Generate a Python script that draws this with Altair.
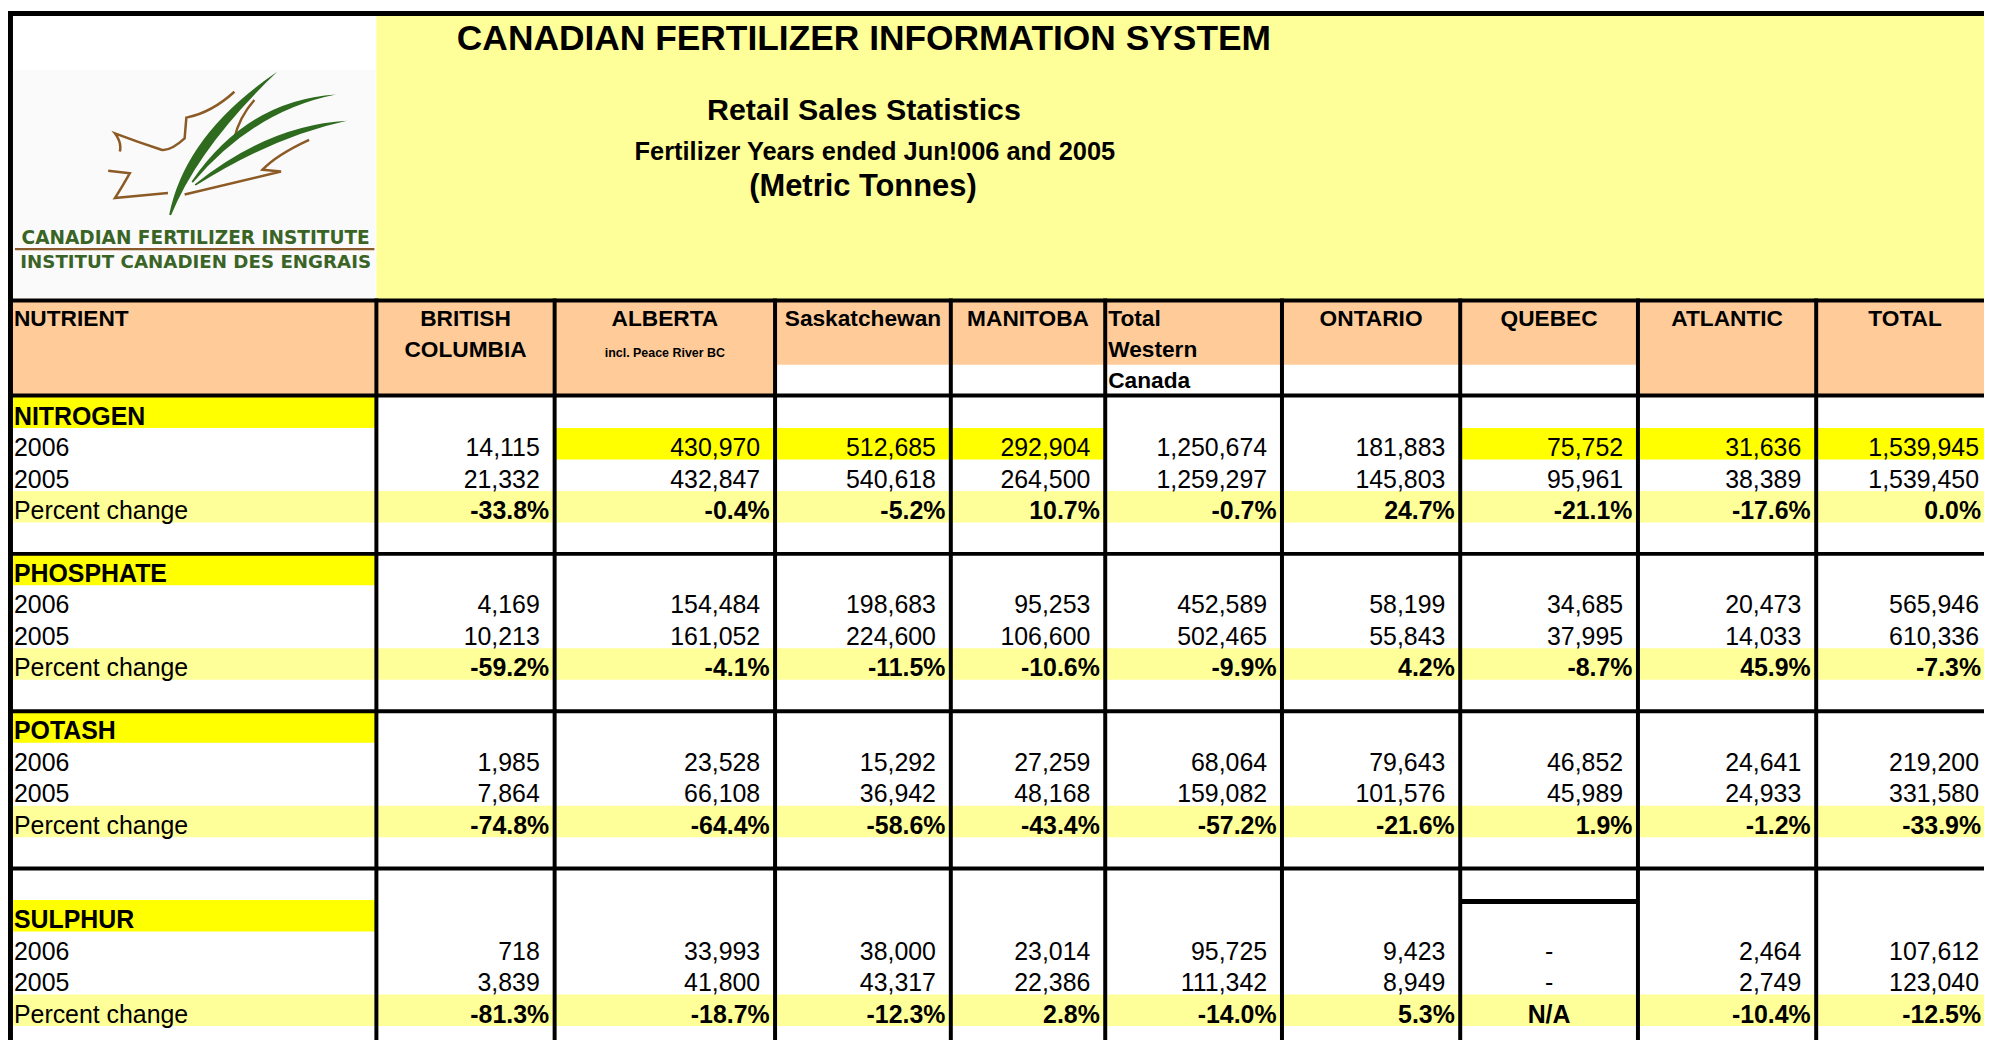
import altair as alt
import pandas as pd

# ------------------------------------------------------------------ data
regions = ["BRITISH COLUMBIA", "ALBERTA", "Saskatchewan", "MANITOBA",
           "Total Western Canada", "ONTARIO", "QUEBEC", "ATLANTIC", "TOTAL"]
nutrients = ["NITROGEN", "PHOSPHATE", "POTASH", "SULPHUR"]
row_labels = ["2006", "2005", "Percent change"]

nitrogen_2006 = [14115, 430970, 512685, 292904, 1250674, 181883, 75752, 31636, 1539945]
nitrogen_2005 = [21332, 432847, 540618, 264500, 1259297, 145803, 95961, 38389, 1539450]
nitrogen_pct = [-33.8, -0.4, -5.2, 10.7, -0.7, 24.7, -21.1, -17.6, 0.0]

phosphate_2006 = [4169, 154484, 198683, 95253, 452589, 58199, 34685, 20473, 565946]
phosphate_2005 = [10213, 161052, 224600, 106600, 502465, 55843, 37995, 14033, 610336]
phosphate_pct = [-59.2, -4.1, -11.5, -10.6, -9.9, 4.2, -8.7, 45.9, -7.3]

potash_2006 = [1985, 23528, 15292, 27259, 68064, 79643, 46852, 24641, 219200]
potash_2005 = [7864, 66108, 36942, 48168, 159082, 101576, 45989, 24933, 331580]
potash_pct = [-74.8, -64.4, -58.6, -43.4, -57.2, -21.6, 1.9, -1.2, -33.9]

sulphur_2006 = [718, 33993, 38000, 23014, 95725, 9423, None, 2464, 107612]
sulphur_2005 = [3839, 41800, 43317, 22386, 111342, 8949, None, 2749, 123040]
sulphur_pct = [-81.3, -18.7, -12.3, 2.8, -14.0, 5.3, None, -10.4, -12.5]

nitrogen_2006_highlight = ["ALBERTA", "Saskatchewan", "MANITOBA", "QUEBEC", "ATLANTIC", "TOTAL"]

header_labels = [["NUTRIENT"], ["BRITISH", "COLUMBIA"], ["ALBERTA", "incl. Peace River BC"],
                 ["Saskatchewan"], ["MANITOBA"], ["Total", "Western", "Canada"],
                 ["ONTARIO"], ["QUEBEC"], ["ATLANTIC"], ["TOTAL"]]

title_lines = ["CANADIAN FERTILIZER INFORMATION SYSTEM", "Retail Sales Statistics",
               "Fertilizer Years ended Jun!006 and 2005", "(Metric Tonnes)"]
logo_lines = ["CANADIAN FERTILIZER INSTITUTE", "INSTITUT CANADIEN DES ENGRAIS"]

series = [(nitrogen_2006, nitrogen_2005, nitrogen_pct),
          (phosphate_2006, phosphate_2005, phosphate_pct),
          (potash_2006, potash_2005, potash_pct),
          (sulphur_2006, sulphur_2005, sulphur_pct)]

# ------------------------------------------------------------------ layout (sheet grid)
W, H = 1984, 1032
col_edges = [4.5, 373, 552.5, 774.5, 951.5, 1107, 1285, 1464.5, 1643.5, 1823, 2002]
ROW0, ROW_H = 396.0, 31.6
block_start = [0, 5, 10, 16]
section_rows = [5, 10, 15]
split_header_cols = [3, 4, 5, 6, 7]
header_base = [325, 356, 387]
RIGHT_LIMIT = 1989

PEACH, YEL, LYEL = "#FFCC99", "#FFFF00", "#FFFF99"
FONT = "Liberation Sans"
BODY, HEAD = 25, 22.8


def row_top(r):
    return ROW0 + ROW_H * r


def baseline(r):
    return row_top(r + 1) - 3.4


X = alt.X("x:Q", scale=alt.Scale(domain=[2, 1992], nice=False, zero=False), axis=None)
Y = alt.Y("y:Q", scale=alt.Scale(domain=[8, 8 + H], nice=False, zero=False, reverse=True), axis=None)
X2 = alt.X2("x2:Q")
Y2 = alt.Y2("y2:Q")

# ------------------------------------------------------------------ cell fills
fills = []


def rect(x, x2, y, y2, c):
    fills.append(dict(x=x, x2=x2, y=y, y2=y2, fill=c))


rect(5, 373, 14, 298, "#FFFFFF")
rect(7, 372, 68, 297, "#FAFAFA")
rect(373, 2002, 14, 298, LYEL)
for i in range(10):
    rect(col_edges[i], col_edges[i + 1], 299.5, 364 if i in split_header_cols else 396, PEACH)
for s in block_start:
    rect(col_edges[0], col_edges[1], row_top(s), row_top(s + 1), YEL)
    rect(col_edges[0], col_edges[-1], row_top(s + 3), row_top(s + 4), LYEL)
for name in nitrogen_2006_highlight:
    j = regions.index(name) + 1
    rect(col_edges[j], col_edges[j + 1], row_top(1), row_top(2), YEL)

fill_layer = alt.Chart(pd.DataFrame(fills)).mark_rect(strokeWidth=0).encode(
    x=X, x2=X2, y=Y, y2=Y2, color=alt.Color("fill:N", scale=None))

# ------------------------------------------------------------------ borders
lines = []


def seg(x, x2, y, y2, w=4, c="#000000"):
    lines.append(dict(x=x, x2=x2, y=y, y2=y2, w=w, c=c))


seg(2, 2002, 11.5, 11.5, 5)
seg(2, 2002, 299.5, 299.5)
seg(2, 2002, 395, 395)
for r in section_rows:
    seg(2, 2002, row_top(r), row_top(r))
seg(col_edges[7], col_edges[8], row_top(16) + 1.5, row_top(16) + 1.5, 5)
seg(4.5, 4.5, 9, 1060, 5)
for e in col_edges[1:]:
    seg(e, e, 297.5, 1060)
seg(9, 371, 248, 248, 2.2, "#8B5A2B")

line_layer = alt.Chart(pd.DataFrame(lines)).mark_rule().encode(
    x=X, x2=X2, y=Y, y2=Y2,
    strokeWidth=alt.StrokeWidth("w:Q", scale=None),
    color=alt.Color("c:N", scale=None))

# ------------------------------------------------------------------ texts
def text_layer(rows, align, weight="normal", font=FONT, color="#000000"):
    return alt.Chart(pd.DataFrame(rows)).mark_text(
        align=align, baseline="alphabetic", font=font, fontWeight=weight, color=color
    ).encode(x=X, y=Y, text="text:N", size=alt.Size("size:Q", scale=None))


title_x = [864, 864, 875, 863]
title_y = [48.3, 118.5, 158.8, 195]
title_size = [35.5, 30.5, 25.5, 31]
title_rows = [dict(x=a, y=b, text=t, size=s)
              for a, b, t, s in zip(title_x, title_y, title_lines, title_size)]

head_center, head_left = [], []
for i, labels in enumerate(header_labels):
    cx = (col_edges[i] + col_edges[i + 1]) / 2
    for k, lab in enumerate(labels):
        if i == 0:
            head_left.append(dict(x=8, y=header_base[k], text=lab, size=HEAD))
        elif i == 5:
            head_left.append(dict(x=col_edges[i] + 3, y=header_base[k], text=lab, size=HEAD))
        else:
            sz = 12.5 if lab.startswith("incl.") else HEAD
            head_center.append(dict(x=cx, y=header_base[k], text=lab, size=sz))

lab_bold, lab_reg, nums, pcts, dash_reg, dash_bold = [], [], [], [], [], []
for b, (name, s) in enumerate(zip(nutrients, block_start)):
    lab_bold.append(dict(x=8, y=baseline(s), text=name, size=BODY))
    for k, lab in enumerate(row_labels):
        lab_reg.append(dict(x=8, y=baseline(s + 1 + k), text=lab, size=BODY))
    v06, v05, pc = series[b]
    for j in range(9):
        right = col_edges[j + 2]
        cx = (col_edges[j + 1] + col_edges[j + 2]) / 2
        for k, v in enumerate([v06, v05]):
            if v[j] is None:
                dash_reg.append(dict(x=cx, y=baseline(s + 1 + k), text="-", size=BODY))
            else:
                nums.append(dict(x=min(right - 15, RIGHT_LIMIT), y=baseline(s + 1 + k),
                                 text=f"{v[j]:,}", size=BODY))
        if pc[j] is None:
            dash_bold.append(dict(x=cx, y=baseline(s + 3), text="N/A", size=BODY))
        else:
            pcts.append(dict(x=min(right - 5.5, RIGHT_LIMIT), y=baseline(s + 3),
                             text=f"{pc[j]:.1f}%", size=BODY))

logo_rows = [dict(x=191, y=243, text=logo_lines[0], size=18.6),
             dict(x=191, y=267, text=logo_lines[1], size=18.3)]

texts = [
    text_layer(title_rows, "center", "bold"),
    text_layer(head_center, "center", "bold"),
    text_layer(head_left, "left", "bold"),
    text_layer(lab_bold, "left", "bold"),
    text_layer(lab_reg, "left"),
    text_layer(nums, "right"),
    text_layer(pcts, "right", "bold"),
    text_layer(dash_reg, "center"),
    text_layer(dash_bold, "center", "bold"),
    text_layer(logo_rows, "center", "bold", "DejaVu Sans", "#3A6426"),
]

# ------------------------------------------------------------------ logo artwork (symbol shapes)
BLADES = ("M -0.46 0.58 Q -0.33 -0.07 0.408 -0.568 Q -0.22 0.03 -0.445 0.585 Z "
          "M -0.28 0.312 Q 0.17 -0.341 0.88 -0.386 Q 0.222 -0.257 -0.27 0.322 Z "
          "M -0.256 0.336 Q 0.34 -0.142 0.968 -0.176 Q 0.38 -0.05 -0.246 0.346 Z")
MAPLE = ("M 0.064 -0.408 Q -0.12 -0.24 -0.322 -0.2 L -0.336 -0.034 "
         "Q -0.45 0.07 -0.522 0.058 Q -0.7 0.0 -0.896 -0.074 Q -0.84 0.0 -0.856 0.072 "
         "M -0.95 0.226 L -0.776 0.246 Q -0.84 0.36 -0.896 0.446 L -0.47 0.406 "
         "M 0.224 -0.342 Q 0.1 -0.2 0.064 -0.034 "
         "M 0.664 -0.022 Q 0.4 0.1 0.29 0.218 L 0.438 0.232 L -0.336 0.418")
logo_pos = pd.DataFrame({"x": [222], "y": [141]})
blades = alt.Chart(logo_pos).mark_point(
    shape=BLADES, filled=True, color="#2E6B1F", opacity=1, size=62500, strokeWidth=0
).encode(x=X, y=Y)
maple = alt.Chart(logo_pos).mark_point(
    shape=MAPLE, filled=False, color="#8C5A24", opacity=1, size=62500, strokeWidth=2.5
).encode(x=X, y=Y)

chart = alt.layer(fill_layer, maple, blades, *texts, line_layer).properties(
    width=W, height=H, padding=0, autosize=alt.AutoSizeParams(type="none"),
    background="#FFFFFF"
).configure_view(strokeWidth=0)

chart.save("out.html", embed_options={"renderer": "svg", "actions": False})
